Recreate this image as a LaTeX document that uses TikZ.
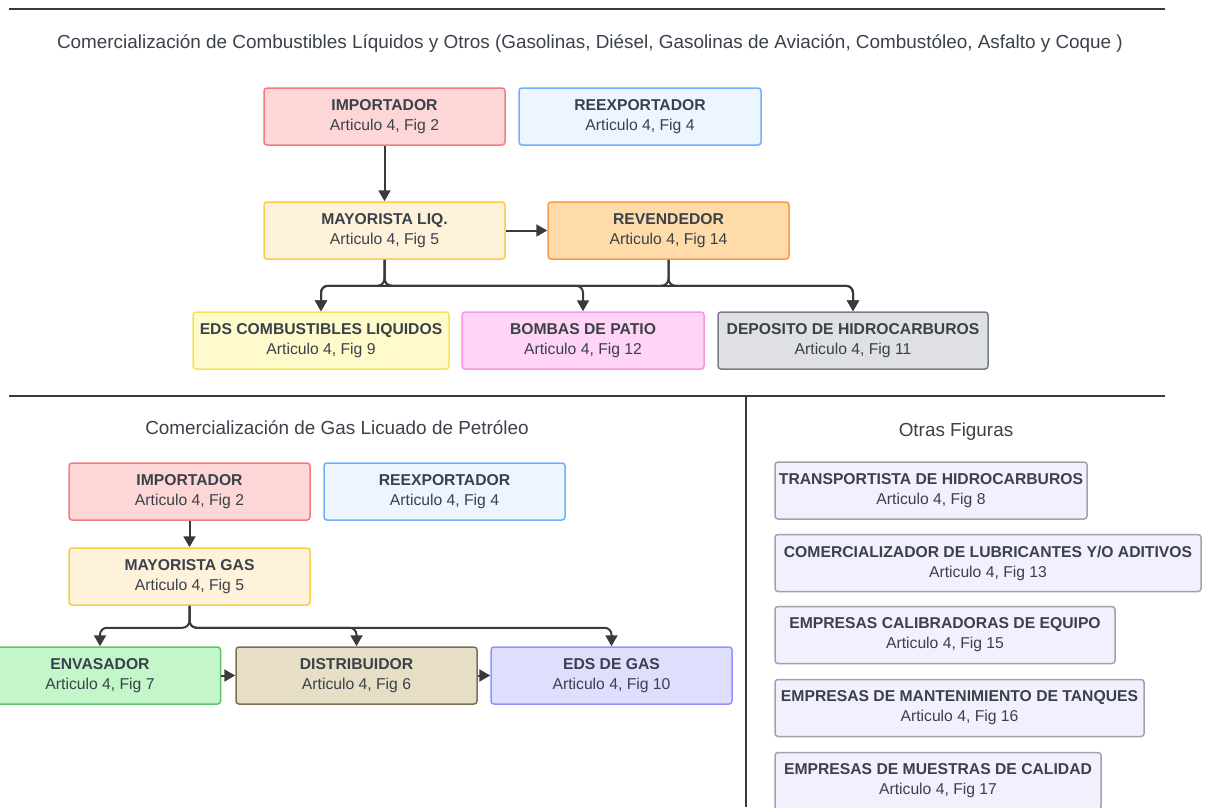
\documentclass[tikz,border=0pt]{standalone}
\usepackage{fontspec}
\setmainfont{Liberation Sans}
\usetikzlibrary{arrows.meta}
\definecolor{lnC}{HTML}{3A3A3A}
\definecolor{txC}{HTML}{3A414A}
\definecolor{redF}{HTML}{FDD7D8}\definecolor{redD}{HTML}{F47C7E}
\definecolor{bluF}{HTML}{EDF5FF}\definecolor{bluD}{HTML}{6DB1FF}
\definecolor{yelF}{HTML}{FFF2DA}\definecolor{yelD}{HTML}{F8CD4A}
\definecolor{oraF}{HTML}{FFDBA9}\definecolor{oraD}{HTML}{F89C45}
\definecolor{ltyF}{HTML}{FEFACC}\definecolor{ltyD}{HTML}{F8E15A}
\definecolor{pnkF}{HTML}{FFD4F5}\definecolor{pnkD}{HTML}{F595E4}
\definecolor{gryF}{HTML}{DEE0E3}\definecolor{gryD}{HTML}{767E86}
\definecolor{grnF}{HTML}{C3F6C9}\definecolor{grnD}{HTML}{5CC46C}
\definecolor{tanF}{HTML}{E6DFC5}\definecolor{tanD}{HTML}{7D6E55}
\definecolor{lavF}{HTML}{DEDEFF}\definecolor{lavD}{HTML}{9392FF}
\definecolor{othF}{HTML}{F1F0FC}\definecolor{othD}{HTML}{9EA3AD}
\begin{document}
\begin{tikzpicture}[x=1pt,y=-1pt,
  fig/.style={rectangle, rounded corners=3pt, line width=1.5pt, minimum height=57pt, inner sep=2pt, align=center, text=txC, font=\fontsize{15.7}{20}\selectfont},
  ttl/.style={text=txC, font=\fontsize{18.9}{22}\selectfont},
  sep/.style={draw=lnC, line width=2pt},
  con/.style={draw=lnC, line width=2pt, rounded corners=7pt, -{Triangle[length=11pt,width=12pt]}}]
\useasboundingbox (0,0) rectangle (1207,807);
\draw[sep] (9,9) -- (1165,9);
\node[ttl] (ttlL) at (590,43) {Comercialización de Combustibles Líquidos y Otros (Gasolinas, Diésel, Gasolinas de Aviación, Combustóleo, Asfalto y Coque )};
\node[fig, fill=redF, draw=redD, minimum width=241pt] (impL) at (384.5,116.5) {\textbf{IMPORTADOR}\\Articulo 4, Fig 2};
\node[fig, fill=bluF, draw=bluD, minimum width=242pt] (reexL) at (640,116.5) {\textbf{REEXPORTADOR}\\Articulo 4, Fig 4};
\node[fig, fill=yelF, draw=yelD, minimum width=241pt] (mayL) at (384.5,230.5) {\textbf{MAYORISTA LIQ.}\\Articulo 4, Fig 5};
\node[fig, fill=oraF, draw=oraD, minimum width=241pt] (revL) at (668.5,230.5) {\textbf{REVENDEDOR}\\Articulo 4, Fig 14};
\node[fig, fill=ltyF, draw=ltyD, minimum width=256pt] (edsL) at (321,340.5) {\textbf{EDS COMBUSTIBLES LIQUIDOS}\\Articulo 4, Fig 9};
\node[fig, fill=pnkF, draw=pnkD, minimum width=242pt] (bomL) at (583,340.5) {\textbf{BOMBAS DE PATIO}\\Articulo 4, Fig 12};
\node[fig, fill=gryF, draw=gryD, minimum width=270pt] (depL) at (853,340.5) {\textbf{DEPOSITO DE HIDROCARBUROS}\\Articulo 4, Fig 11};
\draw[con] (impL) -- (mayL);
\draw[con] (mayL) -- (revL);
\draw[con] (mayL.south) -- ++(0,26) -| (edsL.north);
\draw[con] (mayL.south) -- ++(0,26) -| (bomL.north);
\draw[con] (mayL.south) -- ++(0,26) -| (depL.north);
\draw[con] (revL.south) -- ++(0,26) -| (edsL.north);
\draw[con] (revL.south) -- ++(0,26) -| (depL.north);
\draw[sep] (9,396) -- (1165,396);
\draw[sep] (746,396) -- (746,807);
\node[ttl] (ttlG) at (337,428) {Comercialización de Gas Licuado de Petróleo};
\node[ttl] (ttlO) at (956,432) {Otras Figuras};
\node[fig, fill=redF, draw=redD, minimum width=241pt] (impG) at (189.5,491.5) {\textbf{IMPORTADOR}\\Articulo 4, Fig 2};
\node[fig, fill=bluF, draw=bluD, minimum width=241pt] (reexG) at (444.5,491.5) {\textbf{REEXPORTADOR}\\Articulo 4, Fig 4};
\node[fig, fill=yelF, draw=yelD, minimum width=241pt] (mayG) at (189.5,576.5) {\textbf{MAYORISTA GAS}\\Articulo 4, Fig 5};
\node[fig, fill=grnF, draw=grnD, minimum width=241pt] (envG) at (100,675.5) {\textbf{ENVASADOR}\\Articulo 4, Fig 7};
\node[fig, fill=tanF, draw=tanD, minimum width=241pt] (disG) at (356.5,675.5) {\textbf{DISTRIBUIDOR}\\Articulo 4, Fig 6};
\node[fig, fill=lavF, draw=lavD, minimum width=241pt] (edsG) at (611.5,675.5) {\textbf{EDS DE GAS}\\Articulo 4, Fig 10};
\draw[con] (impG) -- (mayG);
\draw[con] (mayG.south) -- ++(0,22) -| (envG.north);
\draw[con] (mayG.south) -- ++(0,22) -| (disG.north);
\draw[con] (mayG.south) -- ++(0,22) -| (edsG.north);
\draw[con] (envG) -- (disG);
\draw[con] (disG) -- (edsG);
\node[fig, fill=othF, draw=othD, minimum width=312pt] (o1) at (931,490.5) {\textbf{TRANSPORTISTA DE HIDROCARBUROS}\\Articulo 4, Fig 8};
\node[fig, fill=othF, draw=othD, minimum width=426pt] (o2) at (988,563) {\textbf{COMERCIALIZADOR DE LUBRICANTES Y/O ADITIVOS}\\Articulo 4, Fig 13};
\node[fig, fill=othF, draw=othD, minimum width=340pt] (o3) at (945,635) {\textbf{EMPRESAS CALIBRADORAS DE EQUIPO}\\Articulo 4, Fig 15};
\node[fig, fill=othF, draw=othD, minimum width=369pt] (o4) at (959.5,708) {\textbf{EMPRESAS DE MANTENIMIENTO DE TANQUES}\\Articulo 4, Fig 16};
\node[fig, fill=othF, draw=othD, minimum width=326pt] (o5) at (938,781) {\textbf{EMPRESAS DE MUESTRAS DE CALIDAD}\\Articulo 4, Fig 17};
\end{tikzpicture}
\end{document}
